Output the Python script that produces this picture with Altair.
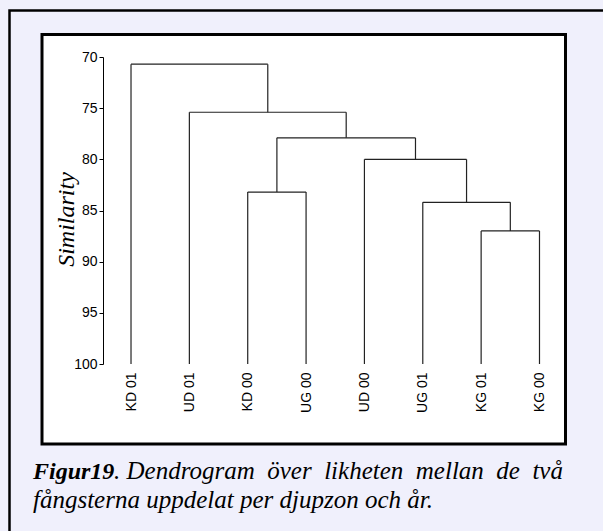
import altair as alt
import pandas as pd

# ---- data ----
leaves = ["KD 01", "UD 01", "KD 00", "UG 00", "UD 00", "UG 01", "KG 01", "KG 00"]
# merges: children indices (0-7 leaves, 8+ created clusters in order) and similarity level
merge_left = [6, 5, 2, 4, 10, 1, 0]
merge_right = [7, 8, 3, 9, 11, 12, 13]
merge_level = [87.0, 84.2, 83.2, 80.0, 77.9, 75.4, 70.7]
y_ticks = [70, 75, 80, 85, 90, 95, 100]
leaf_level = 100

caption_bold = "Figur19"
caption_rest = ". Dendrogram över likheten mellan de två"
caption_line2 = "fångsterna uppdelat per djupzon och år."

# ---- build dendrogram segments ----
node_x = {i: float(i) for i in range(len(leaves))}
node_h = {i: float(leaf_level) for i in range(len(leaves))}
rows = []
for k, (l, r, h) in enumerate(zip(merge_left, merge_right, merge_level)):
    nid = len(leaves) + k
    xl, xr = node_x[l], node_x[r]
    rows.append({"x": xl, "x2": xl, "y": node_h[l], "y2": h})
    rows.append({"x": xr, "x2": xr, "y": node_h[r], "y2": h})
    rows.append({"x": xl, "x2": xr, "y": h, "y2": h})
    node_x[nid] = (xl + xr) / 2
    node_h[nid] = h
seg = pd.DataFrame(rows)

OX, OY = 103, 57  # plot origin in page pixels
W, H = 454, 307

label_expr = "[" + ",".join("'%s'" % s for s in leaves) + "][datum.value]"

xscale = alt.Scale(domain=[-0.48, 7.3], nice=False, zero=False)
yscale = alt.Scale(domain=[70, 100], reverse=True, nice=False, zero=False)

one = pd.DataFrame({"a": [0]})

outer = alt.Chart(one).mark_rect(fillOpacity=0, stroke="black", strokeWidth=2.5).encode(
    x=alt.value(9.5 - OX), x2=alt.value(800), y=alt.value(10.5 - OY), y2=alt.value(800)
)
inner = alt.Chart(one).mark_rect(fill="white", stroke="black", strokeWidth=3).encode(
    x=alt.value(42 - OX), x2=alt.value(565.5 - OX), y=alt.value(34.5 - OY), y2=alt.value(444 - OY)
)

dendro = alt.Chart(seg).mark_rule(color="#222222", strokeWidth=1.2).encode(
    x=alt.X("x:Q", scale=xscale, axis=alt.Axis(
        values=list(range(len(leaves))), labelExpr=label_expr, labelAngle=270,
        domain=False, ticks=False, grid=False, title=None, labelFont="Liberation Sans",
        labelFontSize=14, labelColor="black", labelPadding=8, zindex=1)),
    x2="x2:Q",
    y=alt.Y("y:Q", scale=yscale, axis=alt.Axis(
        values=y_ticks, grid=False, tickSize=4, tickColor="black", domainColor="black",
        labelFont="Liberation Sans", labelFontSize=14, labelColor="black", labelPadding=2,
        zindex=1, title="Similarity", titleFont="Liberation Serif", titleFontStyle="italic",
        titleFontWeight="normal", titleFontSize=24, titleColor="black", titleAngle=270,
        titleAlign="center", titleBaseline="middle", titleX=66 - OX, titleY=219 - OY)),
    y2="y2:Q",
)

# caption: first line is justified in the source, so its word gaps are wider
words1 = caption_rest.split(" ")
rest_justified = words1[0] + " " + "\u00a0 ".join(words1[1:])

cap1 = alt.Chart(one).mark_text(
    text=caption_bold, font="Liberation Serif", fontStyle="italic", fontWeight="bold",
    fontSize=24, align="left", baseline="alphabetic", color="black"
).encode(x=alt.value(33 - OX), y=alt.value(479 - OY))
cap2 = alt.Chart(one).mark_text(
    text=rest_justified, font="Liberation Serif", fontStyle="italic",
    fontSize=25, align="left", baseline="alphabetic", color="black"
).encode(x=alt.value(114 - OX), y=alt.value(479 - OY))
cap3 = alt.Chart(one).mark_text(
    text=caption_line2, font="Liberation Serif", fontStyle="italic",
    fontSize=25, align="left", baseline="alphabetic", color="black"
).encode(x=alt.value(33 - OX), y=alt.value(508 - OY))

chart = alt.layer(outer, inner, dendro, cap1, cap2, cap3).properties(
    width=W, height=H,
    autosize=alt.AutoSizeParams(type="none"),
    padding={"left": OX, "top": OY, "right": 603 - OX - W, "bottom": 531 - OY - H},
    background="#f0f0fc",
).configure_view(stroke=None)

chart.save("out.html", embed_options={"renderer": "svg", "actions": False})
